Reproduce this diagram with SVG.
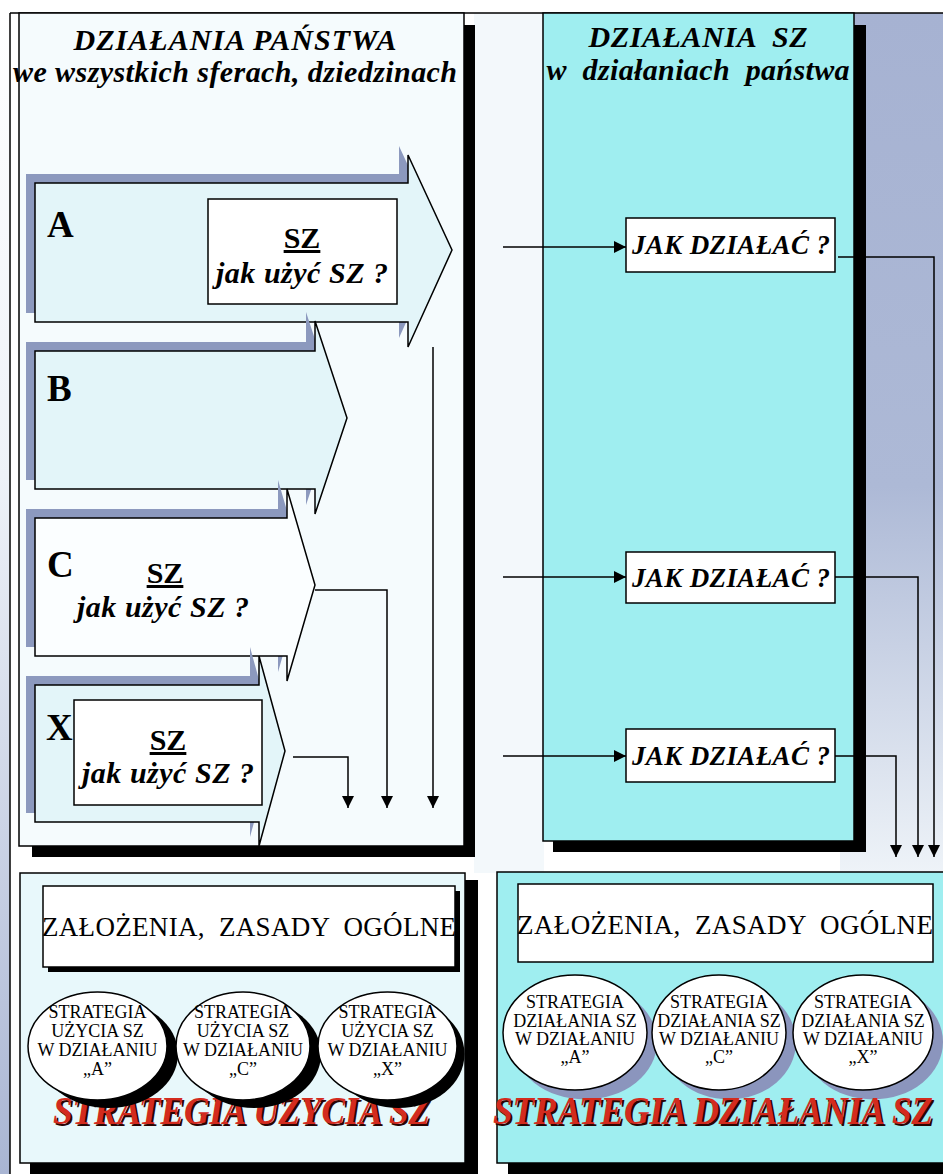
<svg xmlns="http://www.w3.org/2000/svg" width="943" height="1174" viewBox="0 0 943 1174" font-family="'Liberation Serif','Times New Roman',serif">
<defs>
<style>
.t{font-family:"Liberation Serif","Times New Roman",serif;fill:#000}
.bi{font-weight:bold;font-style:italic}
.b{font-weight:bold}
.c{text-anchor:middle}
.ln{fill:none;stroke:#000;stroke-width:1.5}
.box{fill:#fff;stroke:#000;stroke-width:1.5}
.sh{fill:#8c99be}
.arr{stroke:#000;stroke-width:1.5}
.ell{fill:#fff;stroke:#000;stroke-width:1.5}
.et{font-size:18px;text-anchor:middle}
.red{fill:#d32b1e;font-weight:bold;font-style:italic;font-size:35px}
.redsh{fill:#2a0604;font-weight:bold;font-style:italic;font-size:35px}
.cyan{fill:#9feef0;stroke:#000;stroke-width:1.5}
</style>
<marker id="ah" viewBox="0 0 12 12" refX="12" refY="6" markerWidth="12" markerHeight="12" markerUnits="userSpaceOnUse" orient="auto"><path d="M0,0 L12,6 L0,12 Z" fill="#000"/></marker>
<linearGradient id="bgR" x1="0" y1="0" x2="0" y2="1">
<stop offset="0" stop-color="#a6b2d2"/>
<stop offset="0.55" stop-color="#adb9d6"/>
<stop offset="1" stop-color="#eef3f8"/>
</linearGradient>
<linearGradient id="bgL" x1="0" y1="0" x2="0" y2="1">
<stop offset="0" stop-color="#ffffff"/>
<stop offset="0.4" stop-color="#eef2f8"/>
<stop offset="1" stop-color="#a9b5d3"/>
</linearGradient>
</defs>

<g id="background">
<rect x="0" y="0" width="943" height="1174" fill="#ffffff"/>
<rect x="474" y="13" width="70" height="860" fill="#f3f8fb"/>
<rect x="840" y="13" width="103" height="860" fill="url(#bgR)"/>
<rect x="0" y="13" width="10" height="1161" fill="url(#bgL)"/>
<line x1="10" y1="13" x2="943" y2="13" stroke="#000" stroke-width="1.5"/>
<line x1="10" y1="13" x2="10" y2="1174" stroke="#000" stroke-width="1.5"/>
</g>

<g id="panel-left">
<rect x="464" y="25" width="11" height="832" fill="#000"/>
<rect x="32" y="846" width="443" height="11" fill="#000"/>
<rect x="19" y="13" width="445" height="833" fill="#f5fbfd" stroke="#000" stroke-width="1.5"/>
<text class="t bi c" x="235" y="50" font-size="30" textLength="323">DZIAŁANIA PAŃSTWA</text>
<text class="t bi c" x="235" y="82" font-size="30" textLength="444">we wszystkich sferach, dziedzinach</text>
</g>

<g id="arrow-A">
<path class="sh" transform="translate(-9,-9)" d="M35,183 H408 V155 L452,250 L408,347 V322 H35 Z"/>
<path class="arr" fill="#e3f5f9" d="M35,183 H408 V155 L452,250 L408,347 V322 H35 Z"/>
<text class="t b" x="47" y="237" font-size="37">A</text>
<rect class="box" x="208" y="199" width="189" height="105"/>
<text class="t b c" x="302" y="248" font-size="30" text-decoration="underline">SZ</text>
<text class="t bi c" x="302" y="283" font-size="30" textLength="172">jak użyć SZ ?</text>
</g>

<g id="arrow-B">
<path class="sh" transform="translate(-9,-9)" d="M35,351 H315 V321 L347,418 L315,514 V489 H35 Z"/>
<path class="arr" fill="#e3f5f9" d="M35,351 H315 V321 L347,418 L315,514 V489 H35 Z"/>
<text class="t b" x="47" y="401" font-size="37">B</text>
</g>

<g id="arrow-C">
<path class="sh" transform="translate(-9,-9)" d="M35,518 H287 V489 L315,585 L287,681 V656 H35 Z"/>
<path class="arr" fill="#fbfeff" d="M35,518 H287 V489 L315,585 L287,681 V656 H35 Z"/>
<text class="t b" x="47" y="577" font-size="37">C</text>
<text class="t b c" x="165" y="583" font-size="30" text-decoration="underline">SZ</text>
<text class="t bi c" x="163" y="617" font-size="30" textLength="172">jak użyć SZ ?</text>
</g>

<g id="arrow-X">
<path class="sh" transform="translate(-9,-9)" d="M35,685 H259 V656 L285,751 L259,846 V822 H35 Z"/>
<path class="arr" fill="#e3f5f9" d="M35,685 H259 V656 L285,751 L259,846 V822 H35 Z"/>
<rect class="box" x="74" y="700" width="188" height="105"/>
<text class="t b" x="46" y="740" font-size="37">X</text>
<text class="t b c" x="168" y="750" font-size="30" text-decoration="underline">SZ</text>
<text class="t bi c" x="168" y="783" font-size="30" textLength="172">jak użyć SZ ?</text>
</g>

<g id="panel-right">
<rect x="854" y="25" width="12" height="827" fill="#000"/>
<rect x="553" y="841" width="313" height="11" fill="#000"/>
<rect class="cyan" x="543" y="13" width="311" height="828"/>
<text class="t bi c" x="698" y="47" font-size="30" textLength="219" xml:space="preserve">DZIAŁANIA  SZ</text>
<text class="t bi c" x="698" y="80" font-size="30" textLength="303" xml:space="preserve">w  działaniach  państwa</text>
</g>

<g id="jak-1">
<rect class="box" x="626" y="218" width="209" height="54"/>
<text class="t bi c" x="731" y="254" font-size="27" textLength="198">JAK DZIAŁAĆ ?</text>
</g>
<g id="jak-2">
<rect class="box" x="626" y="552" width="209" height="51"/>
<text class="t bi c" x="731" y="587" font-size="27" textLength="198">JAK DZIAŁAĆ ?</text>
</g>
<g id="jak-3">
<rect class="box" x="626" y="729" width="209" height="53"/>
<text class="t bi c" x="731" y="765" font-size="27" textLength="198">JAK DZIAŁAĆ ?</text>
</g>

<g id="connectors">
<path class="ln" d="M433,347 V808" marker-end="url(#ah)"/>
<path class="ln" d="M315,590 H387 V808" marker-end="url(#ah)"/>
<path class="ln" d="M293,757 H348 V808" marker-end="url(#ah)"/>
<path class="ln" d="M503,247 H626" marker-end="url(#ah)"/>
<path class="ln" d="M503,577 H626" marker-end="url(#ah)"/>
<path class="ln" d="M503,756 H626" marker-end="url(#ah)"/>
<path class="ln" d="M838,257 H934 V857" marker-end="url(#ah)"/>
<path class="ln" d="M835,577 H918 V857" marker-end="url(#ah)"/>
<path class="ln" d="M835,756 H896 V857" marker-end="url(#ah)"/>
</g>

<g id="bottom-left">
<rect x="465" y="880" width="13" height="294" fill="#000"/>
<rect x="30" y="1163" width="448" height="11" fill="#000"/>
<rect x="20" y="873" width="445" height="290" fill="#e8f8fb" stroke="#000" stroke-width="1.5"/>
<rect x="48" y="891" width="412" height="81" fill="#000"/>
<rect class="box" x="43" y="886" width="412" height="81"/>
<text class="t" x="42" y="936" font-size="27" textLength="414" xml:space="preserve">ZAŁOŻENIA,  ZASADY  OGÓLNE</text>
<text class="t redsh" transform="translate(55,1126) scale(1,1.12)" x="0" y="0" textLength="377" lengthAdjust="spacingAndGlyphs">STRATEGIA UŻYCIA SZ</text>
<text class="t red" transform="translate(53,1124) scale(1,1.12)" x="0" y="0" textLength="377" lengthAdjust="spacingAndGlyphs">STRATEGIA UŻYCIA SZ</text>
</g>

<g id="strategy-use-A">
<ellipse cx="108.5" cy="1054" rx="69.5" ry="54" fill="#000"/>
<ellipse class="ell" cx="97.5" cy="1046" rx="69.5" ry="54"/>
<text class="t et" x="97.5" y="1018">STRATEGIA</text>
<text class="t et" x="97.5" y="1037">UŻYCIA SZ</text>
<text class="t et" x="97.5" y="1056">W DZIAŁANIU</text>
<text class="t et" x="97.5" y="1075">„A”</text>
</g>
<g id="strategy-use-C">
<ellipse cx="254" cy="1054" rx="67" ry="54" fill="#000"/>
<ellipse class="ell" cx="243" cy="1046" rx="67" ry="54"/>
<text class="t et" x="243" y="1018">STRATEGIA</text>
<text class="t et" x="243" y="1037">UŻYCIA SZ</text>
<text class="t et" x="243" y="1056">W DZIAŁANIU</text>
<text class="t et" x="243" y="1075">„C”</text>
</g>
<g id="strategy-use-X">
<ellipse cx="398.5" cy="1054" rx="66" ry="54" fill="#000"/>
<ellipse class="ell" cx="387.5" cy="1046" rx="69.5" ry="54"/>
<text class="t et" x="387.5" y="1018">STRATEGIA</text>
<text class="t et" x="387.5" y="1037">UŻYCIA SZ</text>
<text class="t et" x="387.5" y="1056">W DZIAŁANIU</text>
<text class="t et" x="387.5" y="1075">„X”</text>
</g>

<g id="bottom-right">
<rect x="508" y="1163" width="440" height="11" fill="#000"/>
<rect class="cyan" x="497" y="872" width="460" height="291"/>
<rect class="box" x="518" y="884" width="415" height="78"/>
<text class="t" x="517" y="934" font-size="27" textLength="416" xml:space="preserve">ZAŁOŻENIA,  ZASADY  OGÓLNE</text>
</g>

<g id="strategy-act-A">
<ellipse cx="585" cy="1042" rx="72" ry="57.5" fill="#8b95bd"/>
<ellipse class="ell" cx="575" cy="1032.5" rx="72" ry="57.5"/>
<text class="t et" x="575" y="1008">STRATEGIA</text>
<text class="t et" x="575" y="1027">DZIAŁANIA SZ</text>
<text class="t et" x="575" y="1045">W DZIAŁANIU</text>
<text class="t et" x="575" y="1063">„A”</text>
</g>
<g id="strategy-act-C">
<ellipse cx="729" cy="1042" rx="67" ry="57.5" fill="#8b95bd"/>
<ellipse class="ell" cx="719" cy="1032.5" rx="67" ry="57.5"/>
<text class="t et" x="719" y="1008">STRATEGIA</text>
<text class="t et" x="719" y="1027">DZIAŁANIA SZ</text>
<text class="t et" x="719" y="1045">W DZIAŁANIU</text>
<text class="t et" x="719" y="1063">„C”</text>
</g>
<g id="strategy-act-X">
<ellipse cx="873" cy="1042" rx="70" ry="57.5" fill="#8b95bd"/>
<ellipse class="ell" cx="863" cy="1032.5" rx="70" ry="57.5"/>
<text class="t et" x="863" y="1008">STRATEGIA</text>
<text class="t et" x="863" y="1027">DZIAŁANIA SZ</text>
<text class="t et" x="863" y="1045">W DZIAŁANIU</text>
<text class="t et" x="863" y="1063">„X”</text>
</g>

<g id="title-right">
<text class="t redsh" transform="translate(495,1126) scale(1,1.12)" x="0" y="0" textLength="440" lengthAdjust="spacingAndGlyphs">STRATEGIA DZIAŁANIA SZ</text>
<text class="t red" transform="translate(493,1124) scale(1,1.12)" x="0" y="0" textLength="440" lengthAdjust="spacingAndGlyphs">STRATEGIA DZIAŁANIA SZ</text>
</g>
</svg>
